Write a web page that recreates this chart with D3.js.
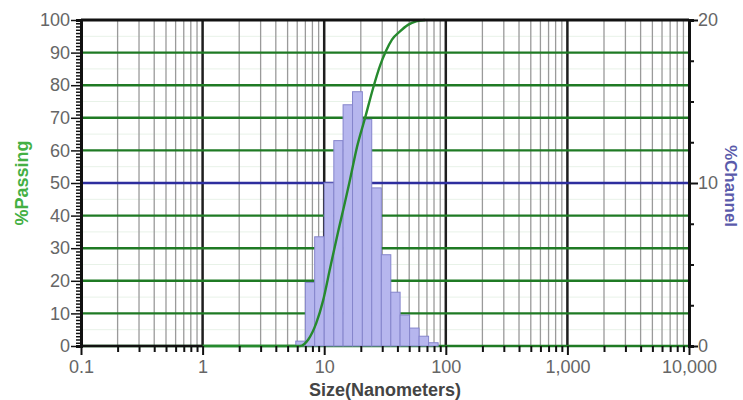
<!DOCTYPE html>
<html>
<head>
    <script src="https://cdn.jsdelivr.net/npm/d3@7"></script>
    <style>
        body { margin: 0; background: #fff; }
        #my-svg { width: 743px; height: 400px; display: block; }
        text { font-family: "Liberation Sans", Arial, sans-serif; }
    </style>
</head>
<body>

<svg id="my-svg"></svg>

<script>
    // channel edges (nm) and % channel per bin
    const binEdges = [5.84, 7.0, 8.35, 10.0, 12.0, 14.3, 17.1, 20.6, 24.6, 29.5, 35.3, 42.1, 50.4, 60.3, 72.2, 86.5];
    const channelPct = [0.3, 3.9, 6.7, 10.0, 12.6, 14.8, 15.6, 13.9, 9.7, 5.6, 3.3, 1.9, 1.1, 0.6, 0.2];

    // cumulative % passing curve
    const curveSize = [1, 6.3, 7.4, 8.6, 9.8, 11.2, 13.0, 14.8, 16.3, 18.6, 21.7, 25.2, 28.8, 32.2, 36.1, 42.0, 48.9, 56.9, 67.4];
    const curvePassing = [0, 0, 2, 7, 14, 24, 35, 44, 51, 61, 70, 79, 86, 90.5, 94, 96.5, 98.5, 99.6, 100];

    const xMajor = [0.1, 1, 10, 100, 1000, 10000];
    const xMajorLabels = ["0.1", "1", "10", "100", "1,000", "10,000"];
    const leftTicks = [0, 10, 20, 30, 40, 50, 60, 70, 80, 90, 100];
    const rightTicks = [0, 10, 20];

    const pLeft = 81, pRight = 689, pTop = 20, pBottom = 346;

    const x = d3.scaleLog().domain([0.1, 10000]).range([pLeft, pRight]);
    const yL = d3.scaleLinear().domain([0, 100]).range([pBottom, pTop]);
    const yR = d3.scaleLinear().domain([0, 20]).range([pBottom, pTop]);

    const svg = d3.select("#my-svg");

    // minor log positions
    let minorX = [];
    xMajor.slice(0, -1).forEach(d => {
        for (let m = 2; m <= 9; m++) minorX.push(d * m);
    });

    // faint in-between horizontal lines
    svg.append("g").selectAll("line")
        .data(d3.range(5, 100, 10))
        .join("line")
        .attr("x1", pLeft).attr("x2", pRight)
        .attr("y1", d => yL(d)).attr("y2", d => yL(d))
        .attr("stroke", "#e8f2e8")
        .attr("stroke-width", 1);

    // vertical grid
    svg.append("g").selectAll("line")
        .data(minorX)
        .join("line")
        .attr("x1", d => x(d)).attr("x2", d => x(d))
        .attr("y1", pTop).attr("y2", pBottom)
        .attr("stroke", "#9a9a9a")
        .attr("stroke-width", 1.3);

    svg.append("g").selectAll("line")
        .data(xMajor.slice(1, -1))
        .join("line")
        .attr("x1", d => x(d)).attr("x2", d => x(d))
        .attr("y1", pTop).attr("y2", pBottom)
        .attr("stroke", "#1e1e1e")
        .attr("stroke-width", 2.5);

    // horizontal grid
    svg.append("g").selectAll("line")
        .data(leftTicks.slice(0, -1))
        .join("line")
        .attr("x1", pLeft).attr("x2", pRight)
        .attr("y1", d => yL(d)).attr("y2", d => yL(d))
        .attr("stroke", d => d === 50 ? "#2e2e9e" : "#1f7a24")
        .attr("stroke-width", 2.4);

    // histogram
    svg.append("g").selectAll("rect")
        .data(channelPct)
        .join("rect")
        .attr("x", (d, i) => x(binEdges[i]))
        .attr("width", (d, i) => x(binEdges[i + 1]) - x(binEdges[i]))
        .attr("y", d => yR(d))
        .attr("height", d => yR(0) - yR(d))
        .attr("fill", "#b6b6ee")
        .attr("stroke", "#8585cc")
        .attr("stroke-width", 1);

    // cumulative curve
    const pts = curveSize.map((s, i) => [s, curvePassing[i]]);
    svg.append("path")
        .datum(pts)
        .attr("d", d3.line().x(d => x(d[0])).y(d => yL(d[1])).curve(d3.curveMonotoneX))
        .attr("fill", "none")
        .attr("stroke", "#268a2e")
        .attr("stroke-width", 2.4);

    // frame
    svg.append("line").attr("x1", pLeft).attr("x2", pRight).attr("y1", pTop).attr("y2", pTop)
        .attr("stroke", "#111").attr("stroke-width", 3);
    svg.append("line").attr("x1", pLeft).attr("x2", x(1)).attr("y1", pBottom).attr("y2", pBottom)
        .attr("stroke", "#111").attr("stroke-width", 2.5);

    // bottom axis
    const xAxis = d3.axisBottom(x)
        .tickValues(xMajor.concat(minorX))
        .tickSize(6)
        .tickFormat(d => {
            const i = xMajor.indexOf(d);
            return i >= 0 ? xMajorLabels[i] : "";
        });
    const gx = svg.append("g").attr("transform", `translate(0,${pBottom})`).call(xAxis);
    gx.select(".domain").remove();
    gx.selectAll(".tick line").attr("stroke", "#111").attr("stroke-width", 2)
        .attr("y2", d => xMajor.includes(d) ? 9 : 6);
    gx.selectAll(".tick text").attr("y", 14).attr("fill", "#666").attr("font-size", 18);

    // left axis
    const yAxisL = d3.axisLeft(yL)
        .tickValues(d3.range(0, 101, 1))
        .tickSize(5)
        .tickFormat(d => d % 10 === 0 ? d : "");
    const gl = svg.append("g").attr("transform", `translate(${pLeft},0)`).call(yAxisL);
    gl.select(".domain").attr("stroke", "#111").attr("stroke-width", 3);
    gl.selectAll(".tick line").attr("stroke", "#111").attr("stroke-width", 1.5)
        .attr("x2", d => d % 10 === 0 ? -10 : -5);
    gl.selectAll(".tick text").attr("x", -11).attr("fill", "#666").attr("font-size", 18);

    // right axis
    const yAxisR = d3.axisRight(yR)
        .tickValues(d3.range(0, 20.1, 2.5))
        .tickSize(5)
        .tickFormat(d => rightTicks.includes(d) ? d : "");
    const gr = svg.append("g").attr("transform", `translate(${pRight},0)`).call(yAxisR);
    gr.select(".domain").attr("stroke", "#111").attr("stroke-width", 3);
    gr.selectAll(".tick line").attr("stroke", "#111").attr("stroke-width", 2)
        .attr("x2", d => rightTicks.includes(d) ? 9 : 5);
    gr.selectAll(".tick text").attr("x", 9).attr("fill", "#666").attr("font-size", 18);

    // titles
    svg.append("text")
        .attr("x", (pLeft + pRight) / 2)
        .attr("y", 396)
        .attr("text-anchor", "middle")
        .attr("font-size", 18)
        .attr("font-weight", "bold")
        .attr("fill", "#444")
        .text("Size(Nanometers)");

    svg.append("text")
        .attr("transform", "translate(28,183) rotate(-90)")
        .attr("text-anchor", "middle")
        .attr("font-size", 18)
        .attr("font-weight", "bold")
        .attr("fill", "#44b044")
        .text("%Passing");

    svg.append("text")
        .attr("transform", "translate(725,186) rotate(90)")
        .attr("text-anchor", "middle")
        .attr("font-size", 17)
        .attr("font-weight", "bold")
        .attr("fill", "#5a5aaa")
        .text("%Channel");
</script>
</body>
</html>
